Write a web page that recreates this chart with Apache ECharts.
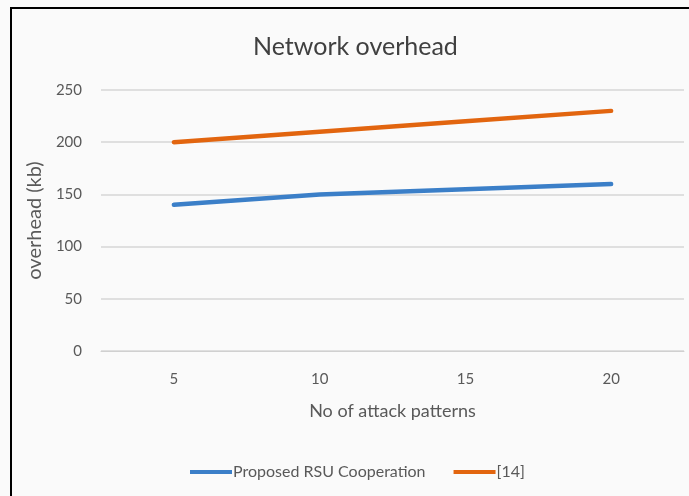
<!DOCTYPE html>
<html>
<head>
<meta charset="utf-8">
<script src="https://cdn.jsdelivr.net/npm/echarts@6/dist/echarts.min.js"></script>
<style>
  html, body { margin: 0; padding: 0; background: #ffffff; }
  #chart { width: 689px; height: 496px; }
</style>
</head>
<body>
<div id="chart"></div>
<script>
// Attack pattern counts on the x axis
const attackPatterns = ['5', '10', '15', '20'];
// Overhead (kb) for each scheme
const proposedRSU = [140, 150, 155, 160];
const ref14 = [200, 210, 220, 230];
// Y axis range
const yMin = 0, yMax = 250, yStep = 50;

const FONT = 'Lato, "Open Sans", sans-serif';
const TEXT = '#595959';

const chart = echarts.init(document.getElementById('chart'));
chart.setOption({
  backgroundColor: '#fafafa',
  animation: false,
  graphic: [{
    type: 'rect',
    shape: { x: 11, y: 8, width: 700, height: 500 },
    style: { fill: 'none', stroke: '#000', lineWidth: 2 },
    silent: true
  }],
  title: {
    text: 'Network overhead',
    left: 248,
    top: 29,
    textStyle: { fontFamily: FONT, fontSize: 25, fontWeight: 'normal', color: '#404040' }
  },
  grid: { left: 101, right: 5, top: 90, bottom: 145 },
  legend: {
    bottom: 11,
    left: 185,
    itemWidth: 42,
    itemHeight: 4,
    itemGap: 28,
    icon: 'rect',
    textStyle: { fontFamily: FONT, fontSize: 16, color: TEXT, padding: [0, 0, 0, -4] },
    data: ['Proposed RSU Cooperation', '[14]']
  },
  xAxis: {
    type: 'category',
    data: attackPatterns,
    boundaryGap: true,
    name: 'No of attack patterns',
    nameLocation: 'middle',
    nameGap: 51,
    nameTextStyle: { fontFamily: FONT, fontSize: 18, color: TEXT },
    axisLine: { lineStyle: { color: '#d0d0d0', width: 1 } },
    axisTick: { show: false },
    axisLabel: { fontFamily: FONT, fontSize: 15, color: TEXT, margin: 21 }
  },
  yAxis: {
    type: 'value',
    min: yMin,
    max: yMax,
    interval: yStep,
    name: 'overhead (kb)',
    nameLocation: 'middle',
    nameGap: 50,
    nameRotate: 90,
    nameTextStyle: { fontFamily: FONT, fontSize: 20, color: TEXT },
    axisLine: { show: false },
    axisTick: { show: false },
    axisLabel: { fontFamily: FONT, fontSize: 15, color: TEXT, margin: 19 },
    splitLine: { lineStyle: { color: '#d6d6d6', width: 1.5 } }
  },
  series: [
    {
      name: 'Proposed RSU Cooperation',
      type: 'line',
      data: proposedRSU,
      symbol: 'none',
      lineStyle: { width: 4.5, color: '#3b7fc8', cap: 'round' },
      itemStyle: { color: '#3b7fc8' }
    },
    {
      name: '[14]',
      type: 'line',
      data: ref14,
      symbol: 'none',
      lineStyle: { width: 4.5, color: '#e2650f', cap: 'round' },
      itemStyle: { color: '#e2650f' }
    }
  ]
});
</script>
</body>
</html>
